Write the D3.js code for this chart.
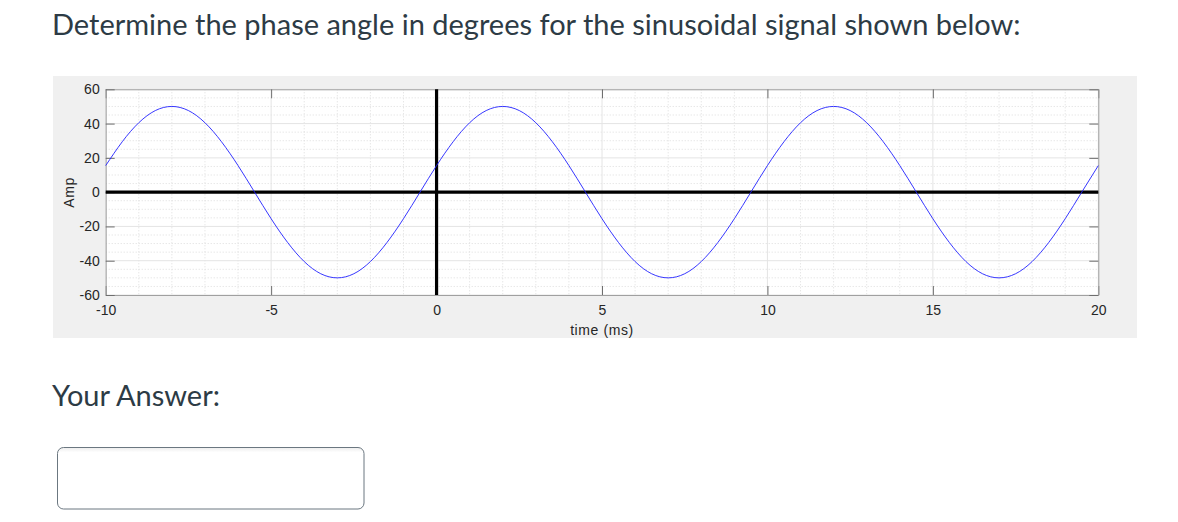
<!DOCTYPE html>
<html>
<head>
<meta charset="utf-8">
<script src="https://cdn.jsdelivr.net/npm/d3@7"></script>
<style>
  body { margin: 0; background: #fff; }
  svg { display: block; }
</style>
</head>
<body>
<div id="chart"></div>
<script>
// question text
const questionText = "Determine the phase angle in degrees for the sinusoidal signal shown below:"
const answerLabel = "Your Answer:"

// signal samples (time in ms, amplitude)
const timeMs = [-10,-9.5,-9,-8.5,-8,-7.5,-7,-6.5,-6,-5.5,-5,-4.5,-4,-3.5,-3,-2.5,-2,-1.5,-1,-0.5,
  0,0.5,1,1.5,2,2.5,3,3.5,4,4.5,5,5.5,6,6.5,7,7.5,8,8.5,9,9.5,
  10,10.5,11,11.5,12,12.5,13,13.5,14,14.5,15,15.5,16,16.5,17,17.5,18,18.5,19,19.5,20]
const amp = [15.5,29.4,40.5,47.6,50,47.6,40.5,29.4,15.5,0,-15.5,-29.4,-40.5,-47.6,-50,-47.6,-40.5,-29.4,-15.5,0,
  15.5,29.4,40.5,47.6,50,47.6,40.5,29.4,15.5,0,-15.5,-29.4,-40.5,-47.6,-50,-47.6,-40.5,-29.4,-15.5,0,
  15.5,29.4,40.5,47.6,50,47.6,40.5,29.4,15.5,0,-15.5,-29.4,-40.5,-47.6,-50,-47.6,-40.5,-29.4,-15.5,0,
  15.5]

// axis ticks
const xTicks = [-10,-5,0,5,10,15,20]
const yTicks = [-60,-40,-20,0,20,40,60]
const xLabel = "time (ms)"
const yLabel = "Amp"

const w = 1178
const h = 522
const tickFont = "'Liberation Sans', Arial, sans-serif"

const svg = d3.select("#chart").append("svg")
  .attr("width", w)
  .attr("height", h)

// title
svg.append("text")
  .attr("x", 52)
  .attr("y", 35)
  .style("font-family", "Lato")
  .style("font-size", "29px")
  .style("fill", "#2d3b45")
  .text(questionText)

// grey figure panel
svg.append("rect")
  .attr("x", 53).attr("y", 76)
  .attr("width", 1084).attr("height", 262)
  .attr("fill", "#f0f0f0")

const x = d3.scaleLinear().domain([-10, 20]).range([105.7, 1098.3])
const y = d3.scaleLinear().domain([-60, 60]).range([295, 89.3])

const plot = svg.append("g")

plot.append("rect")
  .attr("x", x(-10)).attr("y", y(60))
  .attr("width", x(20) - x(-10)).attr("height", y(-60) - y(60))
  .attr("fill", "#fff")

// minor grid (dotted)
const grid = plot.append("g")
grid.selectAll(".mx").data(x.ticks(30).filter(d => !xTicks.includes(d)))
  .enter().append("line")
  .attr("x1", d => x(d)).attr("x2", d => x(d))
  .attr("y1", y(60)).attr("y2", y(-60))
  .attr("stroke", "#dcdcdc").attr("stroke-dasharray", "1,2")
grid.selectAll(".my").data(y.ticks(24).filter(d => !yTicks.includes(d)))
  .enter().append("line")
  .attr("x1", x(-10)).attr("x2", x(20))
  .attr("y1", d => y(d)).attr("y2", d => y(d))
  .attr("stroke", "#dcdcdc").attr("stroke-dasharray", "1,2")

// major grid
grid.selectAll(".gx").data(xTicks)
  .enter().append("line")
  .attr("x1", d => x(d)).attr("x2", d => x(d))
  .attr("y1", y(60)).attr("y2", y(-60))
  .attr("stroke", "#e4e4e4")
grid.selectAll(".gy").data(yTicks)
  .enter().append("line")
  .attr("x1", x(-10)).attr("x2", x(20))
  .attr("y1", d => y(d)).attr("y2", d => y(d))
  .attr("stroke", "#e4e4e4")

// axes, ticks pointing inward like matlab
const styleAxis = g => {
  g.select(".domain").attr("stroke", "#a0a0a0")
  g.selectAll(".tick line").attr("stroke", "#6e6e6e")
  g.selectAll("text")
    .style("font-family", tickFont)
    .style("font-size", "14px")
    .style("fill", "#262626")
}
const plain = d => String(d)

plot.append("g")
  .attr("transform", "translate(0," + y(-60) + ")")
  .call(d3.axisBottom(x).tickValues(xTicks).tickFormat(plain).tickSize(-9).tickPadding(10).tickSizeOuter(0))
  .call(styleAxis)
plot.append("g")
  .attr("transform", "translate(0," + y(60) + ")")
  .call(d3.axisTop(x).tickValues(xTicks).tickSize(-9).tickFormat("").tickSizeOuter(0))
  .call(styleAxis)
plot.append("g")
  .attr("transform", "translate(" + x(-10) + ",0)")
  .call(d3.axisLeft(y).tickValues(yTicks).tickFormat(plain).tickSize(-9).tickPadding(6).tickSizeOuter(0))
  .call(styleAxis)
plot.append("g")
  .attr("transform", "translate(" + x(20) + ",0)")
  .call(d3.axisRight(y).tickValues(yTicks).tickSize(-9).tickFormat("").tickSizeOuter(0))
  .call(styleAxis)

// thick zero lines
plot.append("line")
  .attr("x1", x(-10)).attr("x2", x(20))
  .attr("y1", y(0)).attr("y2", y(0))
  .attr("stroke", "#000").attr("stroke-width", 3.2)
plot.append("line")
  .attr("x1", x(0)).attr("x2", x(0))
  .attr("y1", y(60)).attr("y2", y(-60))
  .attr("stroke", "#000").attr("stroke-width", 3.2)

// the signal
const line = d3.line()
  .x((d, i) => x(timeMs[i]))
  .y(d => y(d))
  .curve(d3.curveNatural)

plot.append("path")
  .datum(amp)
  .attr("d", line)
  .attr("fill", "none")
  .attr("stroke", "#2020ff")
  .attr("stroke-width", 0.9)

// axis labels
plot.append("text")
  .attr("x", (x(-10) + x(20)) / 2)
  .attr("y", 335)
  .attr("text-anchor", "middle")
  .style("font-family", tickFont)
  .style("font-size", "14px")
  .style("letter-spacing", "0.6px")
  .style("fill", "#262626")
  .text(xLabel)

plot.append("text")
  .attr("transform", "translate(73.5,192.5) rotate(-90)")
  .attr("text-anchor", "middle")
  .style("font-family", tickFont)
  .style("font-size", "14px")
  .style("letter-spacing", "0.6px")
  .style("fill", "#262626")
  .text(yLabel)

// answer prompt
svg.append("text")
  .attr("x", 52)
  .attr("y", 406)
  .style("font-family", "Lato")
  .style("font-size", "29px")
  .style("fill", "#2d3b45")
  .text(answerLabel)

// answer box
const defs = svg.append("defs")
const grad = defs.append("linearGradient")
  .attr("id", "inset").attr("x1", 0).attr("y1", 0).attr("x2", 0).attr("y2", 1)
grad.append("stop").attr("offset", "0").attr("stop-color", "#ededed")
grad.append("stop").attr("offset", "0.08").attr("stop-color", "#fff")
grad.append("stop").attr("offset", "1").attr("stop-color", "#fff")

svg.append("rect")
  .attr("x", 57.5).attr("y", 447.5)
  .attr("width", 306.5).attr("height", 61.5)
  .attr("rx", 6).attr("ry", 6)
  .attr("fill", "url(#inset)")
  .attr("stroke", "#6b7780")
  .attr("stroke-width", 1)
</script>
</body>
</html>
